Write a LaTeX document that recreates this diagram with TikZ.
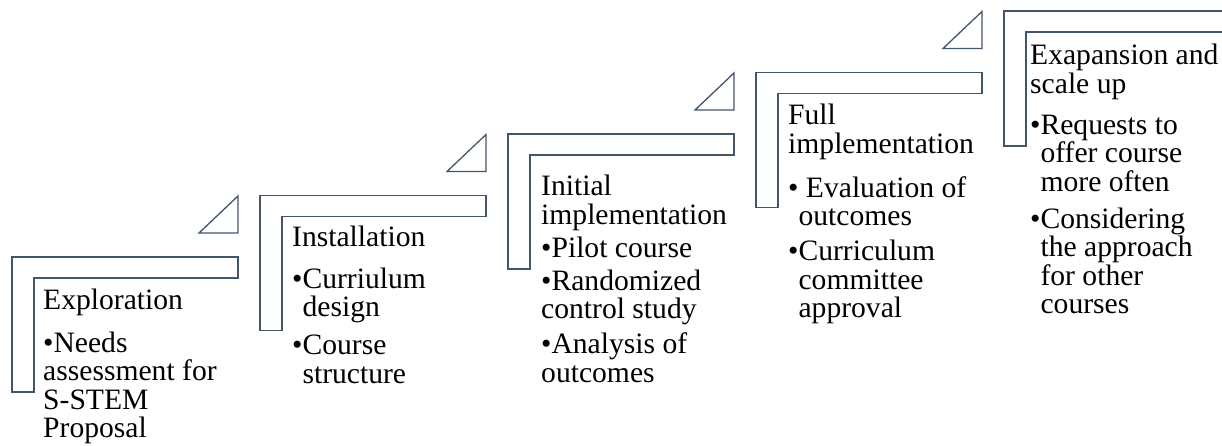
\documentclass[tikz,border=0pt]{standalone}
\usepackage{fontspec}
\setmainfont{Liberation Serif}
\definecolor{lc}{HTML}{44546A}
\newcommand\hb{\hphantom{\textbullet}}
\begin{document}
\begin{tikzpicture}[x=1pt,y=-1pt,
  stepshape/.style={draw=lc,line width=1.3pt,line join=miter},
  txt/.style={anchor=base west,inner sep=0pt,text=black,font=\fontsize{29.6}{28.5}\selectfont}]
\useasboundingbox (0,0) rectangle (1222,446);
\clip (0,0) rectangle (1222,446);
% L-shaped steps
\foreach \lx/\ty [count=\i] in {12/257, 260/195.5, 508/134, 756/72.5, 1004/11} {
  \draw[stepshape] (\lx,\ty) -- ++(226,0) -- ++(0,21) -- ++(-204,0) -- ++(0,114) -- ++(-22,0) -- cycle;
}
% triangles
\foreach \lx/\ty in {12/257, 260/195.5, 508/134, 756/72.5} {
  \draw[stepshape] (\lx+226,\ty-61) -- ++(0,37) -- ++(-39,0) -- cycle;
}
% texts
\node[txt] (s1) at (43,309) {\parbox[t]{8cm}{\raggedright
Exploration\\[14.5pt]
\textbullet Needs\\
assessment for\\
S-STEM\\
Proposal}};
\node[txt] (s2) at (292,247) {\parbox[t]{8cm}{\raggedright
Installation\\[12.5pt]
\textbullet Curriulum\\
\hb design\\[9.5pt]
\textbullet Course\\
\hb structure}};
\node[txt] (s3) at (541,196) {\parbox[t]{8cm}{\raggedright
Initial\\
implementation\\[4.5pt]
\textbullet Pilot course\\[4.5pt]
\textbullet Randomized\\
control study\\[6.5pt]
\textbullet Analysis of\\
outcomes}};
\node[txt] (s4) at (788,125) {\parbox[t]{8cm}{\raggedright
Full\\
implementation\\[15.5pt]
\textbullet{} Evaluation of\\
\hb outcomes\\[6.5pt]
\textbullet Curriculum\\
\hb committee\\
\hb approval}};
\node[txt] (s5) at (1030,65) {\parbox[t]{8cm}{\raggedright
Exapansion and\\
scale up\\[12.5pt]
\textbullet Requests to\\
\hb offer course\\
\hb more often\\[8.5pt]
\textbullet Considering\\
\hb the approach\\
\hb for other\\
\hb courses}};
\end{tikzpicture}
\end{document}
